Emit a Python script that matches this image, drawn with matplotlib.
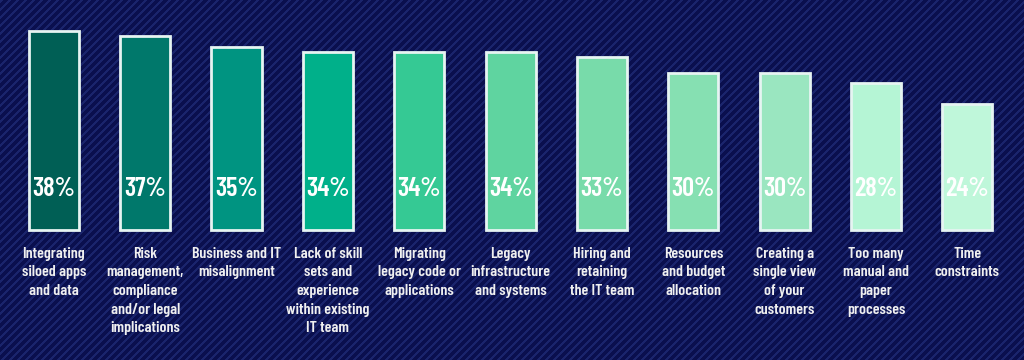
import numpy as np
import matplotlib
matplotlib.use("Agg")
import matplotlib.pyplot as plt

labels = [
    "Integrating\nsiloed apps\nand data",
    "Risk\nmanagement,\ncompliance\nand/or legal\nimplications",
    "Business and IT\nmisalignment",
    "Lack of skill\nsets and\nexperience\nwithin existing\nIT team",
    "Migrating\nlegacy code or\napplications",
    "Legacy\ninfrastructure\nand systems",
    "Hiring and\nretaining\nthe IT team",
    "Resources\nand budget\nallocation",
    "Creating a\nsingle view\nof your\ncustomers",
    "Too many\nmanual and\npaper\nprocesses",
    "Time\nconstraints",
]
values = [38, 37, 35, 34, 34, 34, 33, 30, 30, 28, 24]
colors = ["#005f55", "#00786b", "#009481", "#00b08a", "#35c994", "#5fd4a0",
          "#78dbaa", "#86e0b2", "#9ae6c0", "#b5f5d5", "#bff7da"]

font = ["Barlow Condensed", "DejaVu Sans"]

W, H = 1024, 360
fig = plt.figure(figsize=(W / 100, H / 100), dpi=100)

# striped navy background
bgax = fig.add_axes([0, 0, 1, 1])
yy, xx = np.mgrid[0:H, 0:W]
stripe = ((xx + yy) % 8) < 3
bg = np.zeros((H, W, 3))
bg[:] = np.array([10, 15, 78]) / 255
bg[stripe] = np.array([26, 36, 108]) / 255
bgax.imshow(bg, origin="upper", aspect="auto", interpolation="nearest")
bgax.axis("off")

ax = fig.add_axes([0, 0, 1, 1])
ax.set_facecolor("none")
x = np.arange(len(values))
ax.bar(x, values, width=0.55, color=colors, edgecolor="#e6f4f2", linewidth=2, zorder=2)

for xi, v in zip(x, values):
    ax.text(xi, 7.8, f"{v}%", ha="center", va="center", color="white",
            fontsize=19, fontweight=600, family=font, zorder=3)

for xi, lab in zip(x, labels):
    ax.text(xi, -3.2, lab, ha="center", va="top", color="#f0f0f0",
            fontsize=11.5, fontweight=600, family=font, linespacing=1.42)

ax.set_xlim(-0.59, 10.62)
ax.set_ylim(-24.8, 43.9)
ax.axis("off")

fig.savefig("out.png", dpi=100)
